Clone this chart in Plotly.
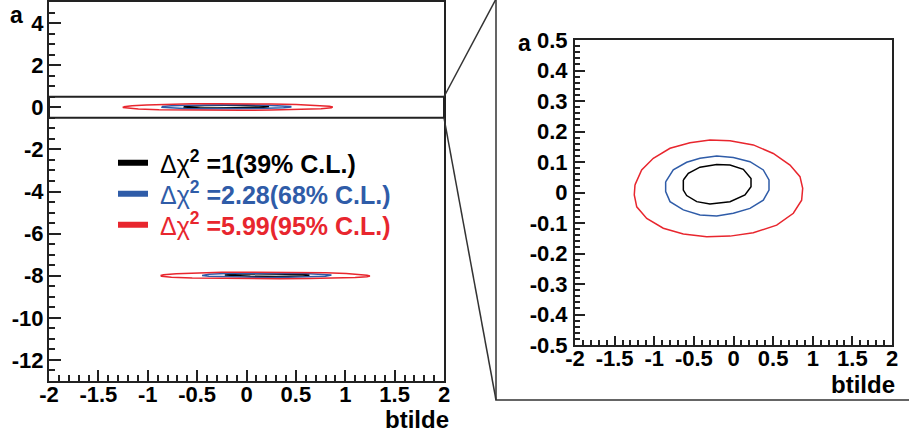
import plotly.graph_objects as go

# ---------------- data ----------------
# contours around the minimum near a = 0 (shown in both panels)
red_x = [-1.243, -1.159, -1.012, -0.801, -0.549, -0.297, -0.044, 0.250, 0.502, 0.713, 0.839, 0.873,
         0.860, 0.755, 0.545, 0.250, -0.044, -0.338, -0.633, -0.886, -1.095, -1.221, -1.252]
red_y = [0.025, 0.074, 0.112, 0.145, 0.163, 0.172, 0.170, 0.156, 0.128, 0.090, 0.052, 0.014,
         -0.025, -0.068, -0.107, -0.132, -0.143, -0.145, -0.136, -0.117, -0.085, -0.047, -0.008]
blue_x = [-0.856, -0.760, -0.591, -0.423, -0.212, -0.002, 0.208, 0.376, 0.448, 0.448, 0.376, 0.208,
          -0.002, -0.212, -0.423, -0.633, -0.801, -0.856]
blue_y = [0.035, 0.074, 0.099, 0.112, 0.120, 0.115, 0.101, 0.074, 0.041, 0.008, -0.025, -0.052,
          -0.068, -0.077, -0.074, -0.057, -0.030, 0.003]
black_x = [-0.633, -0.570, -0.423, -0.212, -0.044, 0.124, 0.221, 0.221, 0.145, -0.044, -0.297, -0.464,
           -0.591, -0.633]
black_y = [0.041, 0.063, 0.083, 0.092, 0.090, 0.076, 0.046, 0.019, -0.008, -0.030, -0.038, -0.030,
           -0.010, 0.008]

# contours around the second minimum near a = -8 (left panel only)
red_lo_x = [-0.87, -0.84, -0.71, -0.50, -0.25, 0.04, 0.30, 0.55, 0.80, 1.01, 1.16, 1.22, 1.25,
            1.22, 1.10, 0.89, 0.63, 0.34, 0.04, -0.25, -0.55, -0.76, -0.86]
red_lo_y = [-7.99, -7.95, -7.91, -7.87, -7.84, -7.83, -7.83, -7.84, -7.86, -7.89, -7.93, -7.98, -8.01,
            -8.05, -8.08, -8.11, -8.13, -8.145, -8.14, -8.13, -8.11, -8.07, -8.03]
blue_lo_x = [-0.45, -0.38, -0.21, 0.00, 0.21, 0.42, 0.59, 0.76, 0.86, 0.80, 0.63, 0.42, 0.21, 0.00,
             -0.21, -0.38, -0.45]
blue_lo_y = [-7.99, -7.93, -7.90, -7.89, -7.88, -7.89, -7.90, -7.93, -7.97, -8.03, -8.06, -8.07, -8.08,
             -8.07, -8.05, -8.03, -7.99]
black_lo_x = [-0.22, -0.12, 0.04, 0.21, 0.42, 0.57, 0.63, 0.63, 0.59, 0.46, 0.30, 0.04, -0.15, -0.22]
black_lo_y = [-7.97, -7.93, -7.91, -7.908, -7.917, -7.937, -7.96, -7.99, -8.01, -8.03, -8.038, -8.03,
              -8.01, -7.98]

legend_labels = [
    '\u00a0<span style="font-weight:normal">Δχ</span><sup>2</sup> =1(39% C.L.)',
    '\u00a0<span style="font-weight:normal">Δχ</span><sup>2</sup> =2.28(68% C.L.)',
    '\u00a0<span style="font-weight:normal">Δχ</span><sup>2</sup> =5.99(95% C.L.)',
]

x_tickvals = [-2, -1.5, -1, -0.5, 0, 0.5, 1, 1.5, 2]
x_ticktext = ["-2", "-1.5", "-1", "-0.5", "0", "0.5", "1", "1.5", "2"]
yl_tickvals = [-12, -10, -8, -6, -4, -2, 0, 2, 4]
yl_ticktext = ["-12", "-10", "-8", "-6", "-4", "-2", "0", "2", "4"]
yr_tickvals = [-0.5, -0.4, -0.3, -0.2, -0.1, 0, 0.1, 0.2, 0.3, 0.4, 0.5]
yr_ticktext = ["-0.5", "-0.4", "-0.3", "-0.2", "-0.1", "0", "0.1", "0.2", "0.3", "0.4", "0.5"]

# ---------------- styling ----------------
W, H = 909, 437
RED = "#E8262E"
BLUE = "#2F5CA8"
BLACK = "#000000"
FRAME = "#222222"
FONT = "Liberation Sans"

L_XDOM = [49 / W, 444 / W]
L_YDOM = [(H - 381) / H, (H - 2) / H]
R_XDOM = [575 / W, 892 / W]
R_YDOM = [(H - 345) / H, (H - 40) / H]
L_YRANGE = [-13, 5]


def closed(v):
    return list(v) + [v[0]]


fig = go.Figure()

curves = [
    (black_x, black_y, BLACK), (blue_x, blue_y, BLUE), (red_x, red_y, RED),
]
for cx, cy, col in curves:
    for xa, ya in (("x", "y"), ("x2", "y2")):
        fig.add_trace(go.Scatter(x=closed(cx), y=closed(cy), mode="lines", xaxis=xa, yaxis=ya,
                                 line=dict(color=col, width=1.5), showlegend=False,
                                 hoverinfo="skip"))
for cx, cy, col in [(black_lo_x, black_lo_y, BLACK), (blue_lo_x, blue_lo_y, BLUE),
                    (red_lo_x, red_lo_y, RED)]:
    fig.add_trace(go.Scatter(x=closed(cx), y=closed(cy), mode="lines", xaxis="x", yaxis="y",
                             line=dict(color=col, width=1.5), showlegend=False, hoverinfo="skip"))

# legend entries (one legend per entry for exact placement)
leg_names = ["legend", "legend2", "legend3"]
leg_cols = [BLACK, BLUE, RED]
leg_centers = [163, 194, 225]
for lbl, col, ln in zip(legend_labels, leg_cols, leg_names):
    fig.add_trace(go.Scatter(x=[None], y=[None], mode="lines", name=lbl, legend=ln,
                             line=dict(color=col, width=6), showlegend=True))

legend_layouts = {}
for ln, col, cy in zip(leg_names, leg_cols, leg_centers):
    legend_layouts[ln] = dict(
        x=113 / W, xanchor="left", y=(H - cy) / H, yanchor="middle",
        bgcolor="rgba(0,0,0,0)", borderwidth=0, itemwidth=30,
        font=dict(family=FONT, size=25, color=col, weight="bold"),
        itemclick=False, itemdoubleclick=False,
    )

common_axis = dict(showgrid=False, zeroline=False, showline=True, mirror=True,
                   linecolor=FRAME, linewidth=2, ticks="inside", tickcolor=FRAME,
                   tickwidth=1.5, automargin=False,
                   tickfont=dict(family=FONT, size=22, color="black", weight="bold"))

fig.update_layout(
    width=W, height=H, margin=dict(l=0, r=0, t=0, b=0, pad=0, autoexpand=False),
    paper_bgcolor="white", plot_bgcolor="white",
    showlegend=True,
    xaxis=dict(domain=L_XDOM, range=[-2, 2], anchor="y", tickmode="array",
               tickvals=x_tickvals, ticktext=x_ticktext, ticklen=11,
               minor=dict(ticks="inside", ticklen=6, tick0=-2, dtick=0.1, tickcolor=FRAME,
                          tickwidth=1.5),
               ticklabelstandoff=-7, **common_axis),
    yaxis=dict(domain=L_YDOM, range=L_YRANGE, anchor="x", tickmode="array",
               tickvals=yl_tickvals, ticktext=yl_ticktext, ticklen=12,
               minor=dict(ticks="inside", ticklen=6, tick0=-13, dtick=0.5, tickcolor=FRAME,
                          tickwidth=1.5),
               ticklabelstandoff=-1, **common_axis),
    xaxis2=dict(domain=R_XDOM, range=[-2, 2], anchor="y2", tickmode="array",
                tickvals=x_tickvals, ticktext=x_ticktext, ticklen=9,
                minor=dict(ticks="inside", ticklen=5, tick0=-2, dtick=0.1, tickcolor=FRAME,
                           tickwidth=1.5),
                ticklabelstandoff=-7, **common_axis),
    yaxis2=dict(domain=R_YDOM, range=[-0.5, 0.5], anchor="x2", tickmode="array",
                tickvals=yr_tickvals, ticktext=yr_ticktext, ticklen=10,
                minor=dict(ticks="inside", ticklen=5, tick0=-0.5, dtick=0.02, tickcolor=FRAME,
                           tickwidth=1.5),
                ticklabelstandoff=1, **common_axis),
    **legend_layouts,
)

# axis titles
title_font = dict(family=FONT, size=24, color="black", weight="bold")
fig.add_annotation(text="a", x=16 / W, y=(H - 15) / H, xref="paper", yref="paper",
                   showarrow=False, font=dict(family=FONT, size=23, color="black", weight="bold"),
                   xanchor="center", yanchor="middle")
fig.add_annotation(text="a", x=524 / W, y=(H - 43) / H, xref="paper", yref="paper",
                   showarrow=False, font=dict(family=FONT, size=23, color="black", weight="bold"),
                   xanchor="center", yanchor="middle")
fig.add_annotation(text="btilde", x=451 / W, y=(H - 419) / H, xref="paper", yref="paper",
                   showarrow=False, font=title_font, xanchor="right", yanchor="middle")
fig.add_annotation(text="btilde", x=897 / W, y=(H - 384) / H, xref="paper", yref="paper",
                   showarrow=False, font=title_font, xanchor="right", yanchor="middle")

# zoom box on the left panel (data coordinates)
zoom_y = [-0.5, 0.5]
fig.add_shape(type="rect", xref="x", yref="y", x0=-2, x1=2, y0=zoom_y[0], y1=zoom_y[1],
              line=dict(color=FRAME, width=2), layer="above")


def ypaper_left(v):
    return L_YDOM[0] + (v - L_YRANGE[0]) / (L_YRANGE[1] - L_YRANGE[0]) * (L_YDOM[1] - L_YDOM[0])


# outer frame of the magnified view
FR_X0, FR_Y0, FR_Y1 = 496 / W, (H - 400) / H, (H + 1) / H
fig.add_shape(type="rect", xref="paper", yref="paper", x0=FR_X0, x1=1.02, y0=FR_Y0, y1=FR_Y1,
              line=dict(color="#333333", width=1.5))
# connector lines
fig.add_shape(type="line", xref="paper", yref="paper", x0=L_XDOM[1], y0=ypaper_left(zoom_y[1]),
              x1=FR_X0, y1=FR_Y1, line=dict(color="#333333", width=1.5))
fig.add_shape(type="line", xref="paper", yref="paper", x0=L_XDOM[1], y0=ypaper_left(zoom_y[0]),
              x1=FR_X0, y1=FR_Y0, line=dict(color="#333333", width=1.5))

fig.write_html("out.html")
